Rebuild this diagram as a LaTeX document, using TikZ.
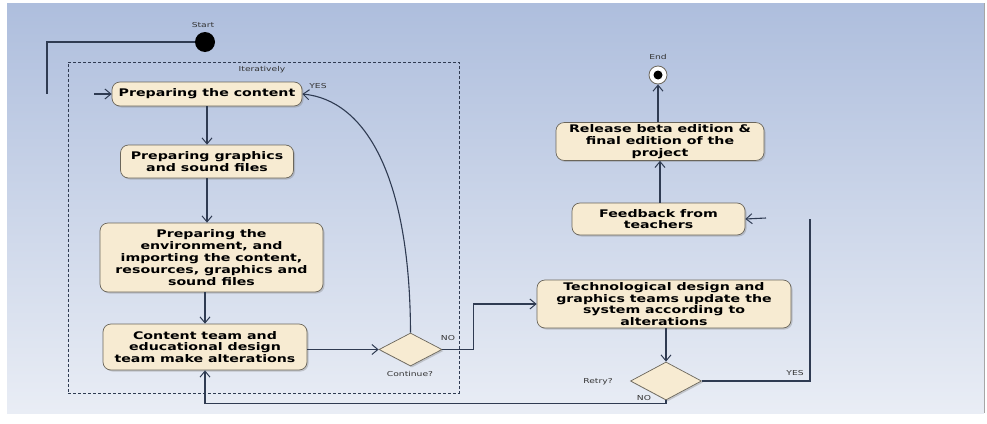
\documentclass[tikz,border=0pt]{standalone}
\usepackage{fontspec}
\newfontfamily\diafont[FakeStretch=1.35,BoldFont={DejaVu Sans Bold}]{DejaVu Sans}
\usetikzlibrary{arrows.meta,shapes.geometric,shadows}
\definecolor{bgtop}{HTML}{AEBEDD}
\definecolor{bgbot}{HTML}{E9EDF5}
\definecolor{wire}{HTML}{2F3B52}
\definecolor{boxfill}{HTML}{F7EBD2}
\definecolor{boxedge}{HTML}{6B665B}
\tikzset{
  actbox/.style={rectangle, rounded corners=8pt, draw=boxedge, line width=0.7pt,
    fill=boxfill, drop shadow={shadow xshift=1.5pt, shadow yshift=-1.5pt, opacity=0.35},
    align=center, inner sep=2pt,
    font=\diafont\bfseries\fontsize{10.5}{11.8}\selectfont},
  choice/.style={diamond, draw=boxedge, line width=0.7pt, fill=boxfill,
    drop shadow={shadow xshift=1.5pt, shadow yshift=-1.5pt, opacity=0.35},
    inner sep=0pt},
  flow/.style={draw=wire, line width=1.1pt,
    -{Straight Barb[length=6pt,width=10pt,line width=1pt]}},
  wireline/.style={draw=wire, line width=1.1pt},
  tag/.style={font=\diafont\fontsize{6.8}{7.5}\selectfont, text=black!80, inner sep=1pt},
}
\begin{document}
\begin{tikzpicture}[x=1pt,y=-1pt]
  % canvas and backdrop
  \fill[white] (0,0) rectangle (987,423);
  \useasboundingbox (0,0) rectangle (987,423);
  \shade[top color=bgtop, bottom color=bgbot] (7,3) rectangle (984,413);
  \draw[black!35, line width=0.6pt] (984,3) -- (984,413);

  % iteration frame
  \node[draw=wire, dash pattern=on 3pt off 2pt, line width=0.9pt, minimum width=391pt,
        minimum height=331pt, inner sep=0pt] (loop) at (263.5,227.5) {};
  \node[tag] (loopLabel) at (262,70) {Iteratively};

  % initial and final nodes
  \node[circle, fill=black, minimum size=20pt, inner sep=0pt] (start) at (205,42) {};
  \node[tag] (startLabel) at (203,25) {Start};
  \node[circle, draw=boxedge, line width=0.8pt, fill=white, minimum size=18pt, inner sep=0pt] (end) at (658,75) {};
  \node[circle, fill=black, minimum size=9pt, inner sep=0pt] (endDot) at (658,75) {};
  \node[tag] (endLabel) at (658,57) {End};

  % activities
  \node[actbox, minimum width=190pt, minimum height=24pt] (content) at (207,94) {Preparing the content};
  \node[actbox, minimum width=173pt, minimum height=33pt] (graphics) at (207,161.5) {Preparing graphics\\and sound files};
  \node[actbox, minimum width=223pt, minimum height=69pt] (env) at (211.5,257.5)
    {Preparing the\\environment, and\\importing the content,\\resources, graphics and\\sound files};
  \node[actbox, minimum width=204pt, minimum height=46pt] (alter) at (205,347)
    {Content team and\\educational design\\team make alterations};
  \node[choice, minimum width=63pt, minimum height=33pt] (cont) at (410.5,349.5) {};
  \node[tag] (contLabel) at (410,374) {Continue?};

  \node[actbox, minimum width=254pt, minimum height=48pt] (tech) at (664,304)
    {Technological design and\\graphics teams update the\\system according to\\alterations};
  \node[choice, minimum width=71pt, minimum height=38pt] (retry) at (666,381) {};
  \node[tag] (retryLabel) at (598,382) {Retry?};

  \node[actbox, minimum width=173pt, minimum height=32pt] (feedback) at (658.5,219) {Feedback from\\teachers};
  \node[actbox, minimum width=208pt, minimum height=37pt] (release) at (660,141.5)
    {Release beta edition \&\\final edition of the\\project};

  % connectors
  \coordinate (startTail) at (47,94);
  \draw[wireline] (start) -| (startTail);
  \coordinate (contentIn) at (94,94);
  \draw[flow] (contentIn) -- (content.west);

  \draw[flow] (content) -- (graphics);
  \draw[flow] (graphics.south) -- (graphics.south |- env.north);
  \draw[flow] (env.south -| alter.north) -- (alter.north);
  \draw[flow] (alter.east |- cont.west) -- (cont.west);
  \draw[flow] (cont.north) .. controls (410,175) and (365,100) .. (content.east);
  \node[tag] (yesTop) at (318,86) {YES};

  \draw[flow] (cont.east) -- ++(31,0) |- (tech.west);
  \node[tag] (noTop) at (448,338) {NO};

  \draw[flow] (tech.south -| retry.north) -- (retry.north);
  \draw[flow] (retry.south) -- ++(0,3) -| (alter.south);
  \node[tag] (noBottom) at (644,398) {NO};

  \coordinate (yesEnd) at (810,219);
  \draw[wireline] (retry.east) -| (yesEnd);
  \node[tag] (yesBottom) at (795,373) {YES};

  \coordinate (feedbackIn) at (766,218);
  \draw[flow] (feedbackIn) -- (feedback.east);
  \draw[flow] (feedback.north -| release.south) -- (release.south);
  \draw[flow] (release.north -| end.south) -- (end.south);
\end{tikzpicture}
\end{document}
